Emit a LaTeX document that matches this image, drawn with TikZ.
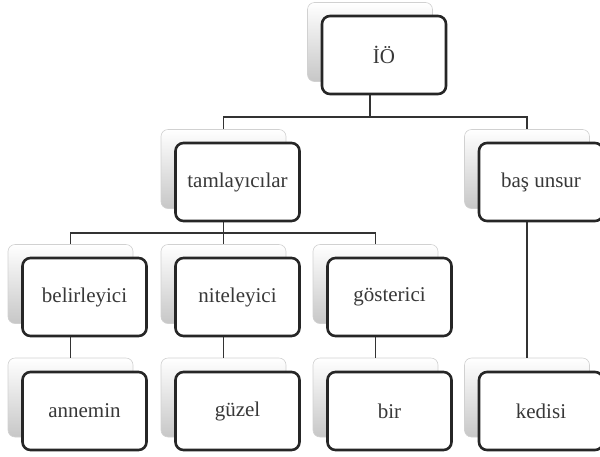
\documentclass[tikz,border=0pt]{standalone}
\usepackage{fontspec}
\setmainfont{Liberation Serif}
\begin{document}
\begin{tikzpicture}[x=1pt,y=-1pt,
  shadowbox/.style={rectangle, rounded corners=7pt, draw=black!18, line width=0.6pt,
    top color=white, bottom color=black!22, minimum width=125pt, minimum height=79pt, inner sep=0pt},
  frontbox/.style={rectangle, rounded corners=8pt, draw=black!85, line width=2.6pt, fill=white,
    minimum width=124pt, minimum height=78pt, inner sep=0pt, text=black!78,
    font=\fontsize{21}{25}\selectfont},
  conn/.style={draw=black!80, line width=1.4pt}]
\useasboundingbox (0,0) rectangle (600,456);
\clip (0,0) rectangle (600,456);
% shadow boxes
\node[shadowbox] (sio) at (370,42) {};
\node[shadowbox] (stam) at (223.5,169) {};
\node[shadowbox] (sbas) at (527,169) {};
\node[shadowbox] (sbel) at (70.5,284) {};
\node[shadowbox] (snit) at (223.5,284) {};
\node[shadowbox] (sgos) at (375.5,284) {};
\node[shadowbox] (sann) at (70.5,397.5) {};
\node[shadowbox] (sguz) at (223.5,397.5) {};
\node[shadowbox] (sbir) at (375.5,397.5) {};
\node[shadowbox] (sked) at (527,397.5) {};
% bar coordinates
\coordinate (bar1) at (0,117);
\coordinate (bar2) at (0,233);
% connectors
\draw[conn] (sio.south) -- (sio.south |- bar1) -| (stam.north);
\draw[conn] (sio.south |- bar1) -| (sbas.north);
\draw[conn] (stam.south) -- (stam.south |- bar2) -| (sbel.north);
\draw[conn] (stam.south |- bar2) -| (sgos.north);
\draw[conn] (stam.south |- bar2) -- (snit.north);
\draw[conn] (sbel.south) -- (sann.north);
\draw[conn] (snit.south) -- (sguz.north);
\draw[conn] (sgos.south) -- (sbir.north);
\draw[conn] (sbas.south) -- (sked.north);
% front boxes
\node[frontbox] (io) at (384,55) {İÖ};
\node[frontbox] (tam) at (237.5,182) {tamlayıcılar};
\node[frontbox] (bas) at (541,182) {baş unsur};
\node[frontbox] (bel) at (84.5,297) {belirleyici};
\node[frontbox] (nit) at (237.5,297) {niteleyici};
\node[frontbox] (gos) at (389.5,297) {gösterici};
\node[frontbox] (ann) at (84.5,411) {annemin};
\node[frontbox] (guz) at (237.5,411) {güzel};
\node[frontbox] (bir) at (389.5,411) {bir};
\node[frontbox] (ked) at (541,411) {kedisi};
\end{tikzpicture}
\end{document}
